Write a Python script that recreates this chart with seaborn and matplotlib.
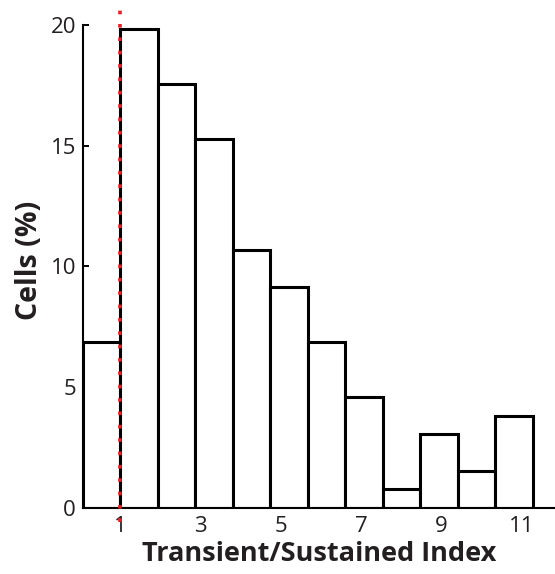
import numpy as np
import pandas as pd
import matplotlib
matplotlib.use("Agg")
import matplotlib.pyplot as plt
import seaborn as sns

# ---- data ----
cells_pct = [6.87, 19.85, 17.56, 15.27, 10.69, 9.16, 6.87, 4.58, 0.76, 3.05, 1.53, 3.82]
tick_values = [1, 3, 5, 7, 9, 11]
tick_labels = ["1", "3", "5", "7", "9", "11"]
y_ticks = [0, 5, 10, 15, 20]
threshold = 1

# ---- layout ----
bin_lo, bin_hi = 0.08, 11.27
edges = np.linspace(bin_lo, bin_hi, len(cells_pct) + 1)
centers = (edges[:-1] + edges[1:]) / 2
df = pd.DataFrame({"index": centers, "pct": cells_pct})

sns.set_theme(style="ticks")
plt.rcParams["font.family"] = ["Open Sans", "DejaVu Sans"]
txt = "#231f20"

fig = plt.figure(figsize=(5.55, 5.74), dpi=100)
ax = fig.add_axes([83 / 555, (574 - 507.7) / 574, (555 - 83) / 555, (507.7 - 25) / 574])

sns.histplot(data=df, x="index", weights="pct", bins=list(edges), ax=ax,
             stat="count", color="white", edgecolor="black", linewidth=2.2, alpha=1)

ax.axvline(threshold, ymin=-0.03, ymax=1.04, color="#ed1c24", lw=2.6,
           linestyle=(0, (1, 2.7)), dash_capstyle="butt", clip_on=False, zorder=5)

ax.set_xlim(bin_lo, 11.82)
ax.set_ylim(0, 20)
ax.set_xticks(tick_values)
ax.set_xticklabels(tick_labels)
ax.set_yticks(y_ticks)
ax.tick_params(axis="x", length=0, pad=6, labelsize=16, labelcolor=txt)
ax.tick_params(axis="y", direction="in", length=4, width=1.4, pad=5,
               labelsize=16, labelcolor=txt, color="black")

for s in ["top", "right"]:
    ax.spines[s].set_visible(False)
for s in ["left", "bottom"]:
    ax.spines[s].set_linewidth(1.5)
    ax.spines[s].set_color("black")

ax.set_xlabel("Transient/Sustained Index", fontsize=19.5, fontweight="bold",
              color=txt, labelpad=3)
ax.set_ylabel("Cells (%)", fontsize=20.5, fontweight="bold", color=txt)
ax.yaxis.set_label_coords(-0.083, (507.7 - 260) / (507.7 - 25))

fig.savefig("out.png", dpi=100)
